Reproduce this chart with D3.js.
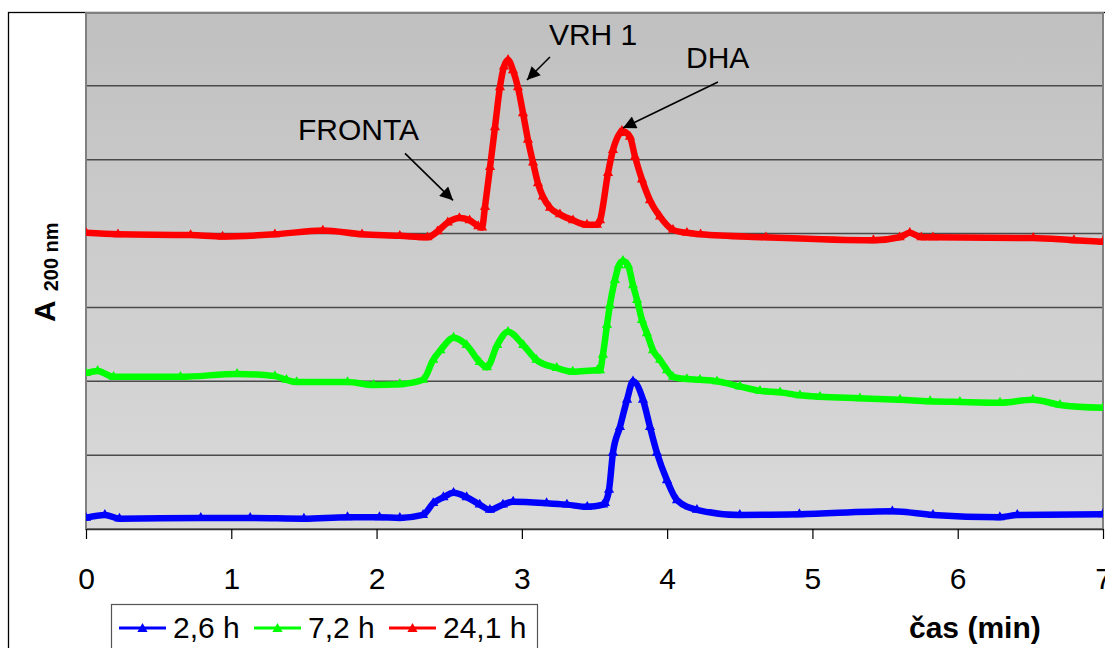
<!DOCTYPE html>
<html>
<head>
<meta charset="utf-8">
<script src="https://cdn.jsdelivr.net/npm/d3@7"></script>
<style>
  body { margin: 0; background: #fff; }
  svg text { font-family: Arial, "Liberation Sans", sans-serif; fill: #000; }
</style>
</head>
<body>
<div id="chart"></div>
<script>
// x ticks (min)
const xTicks = [0, 1, 2, 3, 4, 5, 6, 7];
// gridlines of the (unlabelled) absorbance axis
const yGrid = [1, 2, 3, 4, 5, 6];

const seriesNames = ["2,6 h", "7,2 h", "24,1 h"];
const seriesColors = ["#0000ff", "#00ff00", "#ff0000"];

// [time (min), A200 (rel. units)]
const blue26 = [
  [0, 0.15], [0.13, 0.19], [0.23, 0.14], [0.79, 0.15], [1.13, 0.15], [1.5, 0.14],
  [1.8, 0.16], [2.02, 0.16], [2.16, 0.15], [2.32, 0.19], [2.39, 0.35], [2.46, 0.43],
  [2.53, 0.49], [2.62, 0.43], [2.71, 0.33], [2.78, 0.26], [2.87, 0.33], [2.94, 0.37],
  [3.17, 0.35], [3.31, 0.33], [3.45, 0.30], [3.56, 0.33], [3.572, 0.35], [3.60, 0.53],
  [3.627, 1.03], [3.675, 1.38], [3.724, 1.75], [3.765, 2.00], [3.834, 1.75],
  [3.882, 1.38], [3.930, 1.03], [3.999, 0.66], [4.068, 0.39], [4.205, 0.26],
  [4.50, 0.19], [4.91, 0.20], [5.55, 0.24], [5.83, 0.19], [6.29, 0.16], [6.41, 0.19],
  [7.0, 0.20]
];
const green72 = [
  [0, 2.11], [0.08, 2.14], [0.19, 2.06], [0.65, 2.06], [1.04, 2.10], [1.30, 2.07],
  [1.38, 2.02], [1.45, 1.99], [1.80, 1.99], [1.98, 1.95], [2.16, 1.96], [2.32, 2.02],
  [2.39, 2.29], [2.44, 2.42], [2.53, 2.59], [2.62, 2.49], [2.71, 2.26], [2.76, 2.19],
  [2.83, 2.49], [2.905, 2.67], [3.01, 2.49], [3.10, 2.29], [3.24, 2.18], [3.35, 2.13],
  [3.52, 2.15], [3.538, 2.15], [3.558, 2.36], [3.586, 2.76], [3.606, 3.03],
  [3.64, 3.37], [3.668, 3.57], [3.696, 3.63], [3.731, 3.57], [3.765, 3.30],
  [3.793, 3.10], [3.827, 2.83], [3.861, 2.65], [3.903, 2.42], [3.951, 2.29],
  [3.999, 2.15], [4.04, 2.06], [4.136, 2.03], [4.226, 2.02], [4.343, 2.00],
  [4.501, 1.93], [4.639, 1.87], [4.777, 1.85], [4.914, 1.81], [5.052, 1.79],
  [5.327, 1.77], [5.603, 1.75], [5.81, 1.73], [6.015, 1.72], [6.291, 1.71],
  [6.518, 1.75], [6.704, 1.68], [7.0, 1.64]
];
const red241 = [
  [0, 4.01], [0.22, 3.99], [0.72, 3.98], [0.94, 3.96], [1.30, 3.99], [1.63, 4.04],
  [1.90, 3.99], [2.16, 3.97], [2.35, 3.95], [2.42, 4.03], [2.49, 4.15], [2.57, 4.21],
  [2.64, 4.18], [2.70, 4.10], [2.726, 4.08], [2.746, 4.36], [2.781, 4.90],
  [2.815, 5.44], [2.849, 5.98], [2.877, 6.26], [2.905, 6.35], [2.939, 6.21],
  [2.973, 5.98], [3.008, 5.63], [3.042, 5.27], [3.077, 4.96], [3.111, 4.68],
  [3.145, 4.50], [3.194, 4.35], [3.262, 4.26], [3.352, 4.18], [3.448, 4.12],
  [3.517, 4.12], [3.538, 4.18], [3.593, 4.82], [3.627, 5.13], [3.675, 5.36],
  [3.689, 5.39], [3.744, 5.31], [3.779, 5.04], [3.827, 4.73], [3.882, 4.45],
  [3.951, 4.23], [4.04, 4.05], [4.136, 4.01], [4.23, 3.99], [4.68, 3.95],
  [5.42, 3.91], [5.60, 3.95], [5.67, 4.01], [5.75, 3.95], [5.83, 3.95],
  [6.52, 3.94], [6.80, 3.91], [7.0, 3.89]
];

// peak labels: arrow tip in data units
const peakLabels = ["FRONTA", "VRH 1", "DHA"];
const peakTips = [[2.526, 4.45], [3.035, 6.08], [3.696, 5.43]];

const W = 1105, H = 648;
const plot = { left: 86, right: 1103, top: 12, bottom: 529 };

const svg = d3.select("#chart").append("svg")
    .attr("width", W)
    .attr("height", H);

const x = d3.scaleLinear().domain([0, 7]).range([plot.left, plot.right]);
const y = d3.scaleLinear().domain([0, 7]).range([plot.bottom, plot.top]);

const defs = svg.append("defs");
const grad = defs.append("linearGradient")
    .attr("id", "bg").attr("x1", 0).attr("x2", 0).attr("y1", 0).attr("y2", 1);
grad.append("stop").attr("offset", "0%").attr("stop-color", "#c0c0c0");
grad.append("stop").attr("offset", "100%").attr("stop-color", "#dadada");

defs.append("clipPath").attr("id", "clip")
  .append("rect")
    .attr("x", plot.left).attr("y", plot.top)
    .attr("width", plot.right - plot.left).attr("height", plot.bottom - plot.top);

defs.append("marker")
    .attr("id", "arrow")
    .attr("markerUnits", "userSpaceOnUse")
    .attr("viewBox", "0 0 10 10")
    .attr("refX", 10).attr("refY", 5)
    .attr("markerWidth", 16).attr("markerHeight", 13)
    .attr("orient", "auto")
  .append("path")
    .attr("d", "M0,0L10,5L0,10z")
    .attr("fill", "#000");

// outer chart border (cropped by the picture on the right and bottom)
svg.append("rect")
    .attr("x", 8.5).attr("y", 12.5)
    .attr("width", W + 20).attr("height", H + 20)
    .attr("fill", "#fff")
    .attr("stroke", "#000")
    .attr("stroke-width", 1.3);

// plot area
svg.append("rect")
    .attr("x", plot.left).attr("y", plot.top + 1)
    .attr("width", plot.right - plot.left).attr("height", plot.bottom - plot.top - 1)
    .attr("fill", "url(#bg)")
    .attr("stroke", "#808080")
    .attr("stroke-width", 2);

svg.append("g")
  .selectAll("line")
  .data(yGrid)
  .enter().append("line")
    .attr("x1", plot.left + 1).attr("x2", plot.right - 1)
    .attr("y1", d => y(d)).attr("y2", d => y(d))
    .attr("stroke", "#4a4a4a")
    .attr("stroke-width", 1.5);

// x axis
const xAxis = svg.append("g")
    .attr("transform", `translate(0,${plot.bottom})`)
    .call(d3.axisBottom(x).tickValues(xTicks).tickFormat(d3.format("d"))
        .tickSize(10).tickSizeOuter(0).tickPadding(30));
xAxis.select(".domain").attr("stroke", "#333").attr("stroke-width", 1.5);
xAxis.selectAll(".tick line").attr("stroke", "#000").attr("stroke-width", 1.2);
xAxis.selectAll(".tick text")
    .attr("font-size", 30)
    .attr("font-family", "Arial, 'Liberation Sans', sans-serif")
    .attr("fill", "#000")
    .attr("dy", "0.66em");

// series
const line = d3.line()
    .x(d => x(d[0]))
    .y(d => y(d[1]))
    .curve(d3.curveMonotoneX);
const tri = d3.symbol().type(d3.symbolTriangle).size(45);

const series = [blue26, green72, red241];
const gSeries = svg.append("g").attr("clip-path", "url(#clip)");
series.forEach((data, i) => {
    gSeries.append("path")
        .datum(data)
        .attr("fill", "none")
        .attr("stroke", seriesColors[i])
        .attr("stroke-width", 6.5)
        .attr("stroke-linejoin", "round")
        .attr("d", line);
    gSeries.append("g")
      .selectAll("path")
      .data(data)
      .enter().append("path")
        .attr("transform", d => `translate(${x(d[0])},${y(d[1])})`)
        .attr("d", tri)
        .attr("fill", seriesColors[i]);
});

// peak annotations
const labelOffsets = [
    { tail: [-48, -47], text: [-155, -60] },
    { tail: [23, -23], text: [22, -35] },
    { tail: [95, -46], text: [63, -60] }
];
peakLabels.forEach((lab, i) => {
    const tx = x(peakTips[i][0]), ty = y(peakTips[i][1]);
    const o = labelOffsets[i];
    svg.append("line")
        .attr("x1", tx + o.tail[0]).attr("y1", ty + o.tail[1])
        .attr("x2", tx).attr("y2", ty)
        .attr("stroke", "#000")
        .attr("stroke-width", 1.6)
        .attr("marker-end", "url(#arrow)");
    svg.append("text")
        .attr("x", tx + o.text[0]).attr("y", ty + o.text[1])
        .attr("font-size", 30)
        .text(lab);
});

// y axis title: A with subscript 200 nm
const yTitle = svg.append("text")
    .attr("transform", "translate(55,322) rotate(-90)")
    .attr("font-weight", "bold");
yTitle.append("tspan").attr("font-size", 30).text("A");
yTitle.append("tspan").attr("font-size", 20).attr("dx", 9).attr("dy", 3).text("200 nm");

// x axis title
svg.append("text")
    .attr("x", 909).attr("y", 638)
    .attr("font-size", 30)
    .attr("font-weight", "bold")
    .text("čas (min)");

// legend
const legend = svg.append("g");
legend.append("rect")
    .attr("x", 111.5).attr("y", 604.5)
    .attr("width", 426).attr("height", 60)
    .attr("fill", "#fff")
    .attr("stroke", "#555")
    .attr("stroke-width", 1.2);
const legendX = [119, 254, 389];
seriesNames.forEach((name, i) => {
    const g = legend.append("g").attr("transform", `translate(${legendX[i]},628)`);
    g.append("line")
        .attr("x1", 0).attr("x2", 47)
        .attr("stroke", seriesColors[i])
        .attr("stroke-width", 3);
    g.append("path")
        .attr("transform", "translate(23.5,1)")
        .attr("d", d3.symbol().type(d3.symbolTriangle).size(45))
        .attr("fill", seriesColors[i]);
    g.append("text")
        .attr("x", 54).attr("y", 9.5)
        .attr("font-size", 30)
        .text(name);
});
</script>
</body>
</html>
